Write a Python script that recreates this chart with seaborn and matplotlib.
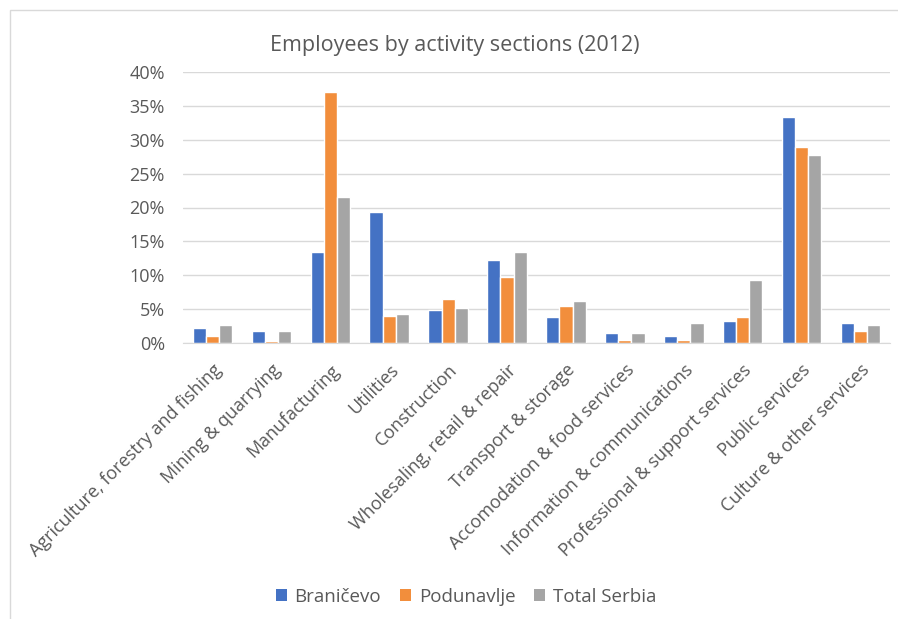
import numpy as np
import pandas as pd
import seaborn as sns
import matplotlib.pyplot as plt
from matplotlib.patches import Rectangle, Patch

sections = ["Agriculture, forestry and fishing", "Mining & quarrying", "Manufacturing",
            "Utilities", "Construction", "Wholesaling, retail & repair",
            "Transport & storage", "Accomodation & food services",
            "Information & communications", "Professional & support services",
            "Public services", "Culture & other services"]
branicevo = [2.2, 1.7, 13.5, 19.4, 4.8, 12.2, 3.9, 1.5, 1.0, 3.3, 33.4, 2.9]
podunavlje = [1.0, 0.25, 37.1, 4.0, 6.5, 9.7, 5.4, 0.4, 0.4, 3.8, 28.9, 1.8]
total_serbia = [2.6, 1.7, 21.6, 4.3, 5.2, 13.5, 6.2, 1.5, 2.9, 9.3, 27.7, 2.7]
regions = ["Braničevo", "Podunavlje", "Total Serbia"]
colors = ["#4472C4", "#F28E3C", "#A5A5A5"]

df = pd.DataFrame({
    "section": sections * 3,
    "region": np.repeat(regions, len(sections)),
    "value": branicevo + podunavlje + total_serbia,
})

sns.set_style("white")
plt.rcParams['font.family'] = ['Open Sans', 'DejaVu Sans']
txt = "#595959"

fig = plt.figure(figsize=(8.98, 6.19), dpi=100)
ax = fig.add_axes([183/898, 1 - 343/619, (890-183)/898, (343-72)/619])

sns.barplot(data=df, x="section", y="value", hue="region", palette=colors,
            width=0.67, gap=0, saturation=1, ax=ax, legend=False)

ax.set_ylim(0, 40)
ax.set_yticks(range(0, 41, 5))
ax.set_yticklabels([f"{v}%" for v in range(0, 41, 5)], fontsize=13, color=txt)
ax.set_xlim(-0.5, len(sections) - 0.5)
ax.set_xticks(range(len(sections)))
ax.set_xticklabels(sections, rotation=45, ha="right", rotation_mode="anchor",
                   fontsize=13, color=txt)
ax.tick_params(axis="y", length=0, pad=13)
ax.tick_params(axis="x", length=0, pad=13)
ax.set_xlabel("")
ax.set_ylabel("")
ax.yaxis.grid(True, color="#d9d9d9", linewidth=1)
ax.set_axisbelow(True)
for s in ["top", "right", "left"]:
    ax.spines[s].set_visible(False)
ax.spines["bottom"].set_color("#d9d9d9")

fig.text(455/898, 1 - 45/619, "Employees by activity sections (2012)",
         ha="center", va="center", fontsize=15.5, color=txt)

handles = [Patch(facecolor=c, edgecolor="none") for c in colors]
fig.legend(handles, regions, loc="center", bbox_to_anchor=(466/898, 1 - 597/619),
           ncol=3, frameon=False, fontsize=13.5, labelcolor=txt,
           handlelength=0.6, handleheight=0.6, columnspacing=1.0, handletextpad=0.4)

# chart frame
fig.patches.append(Rectangle((10/898, -0.01), 1.0, 1 - 10/619 + 0.01,
                             transform=fig.transFigure, fill=False,
                             edgecolor="#d9d9d9", linewidth=1))

fig.savefig("out.png", dpi=100)
